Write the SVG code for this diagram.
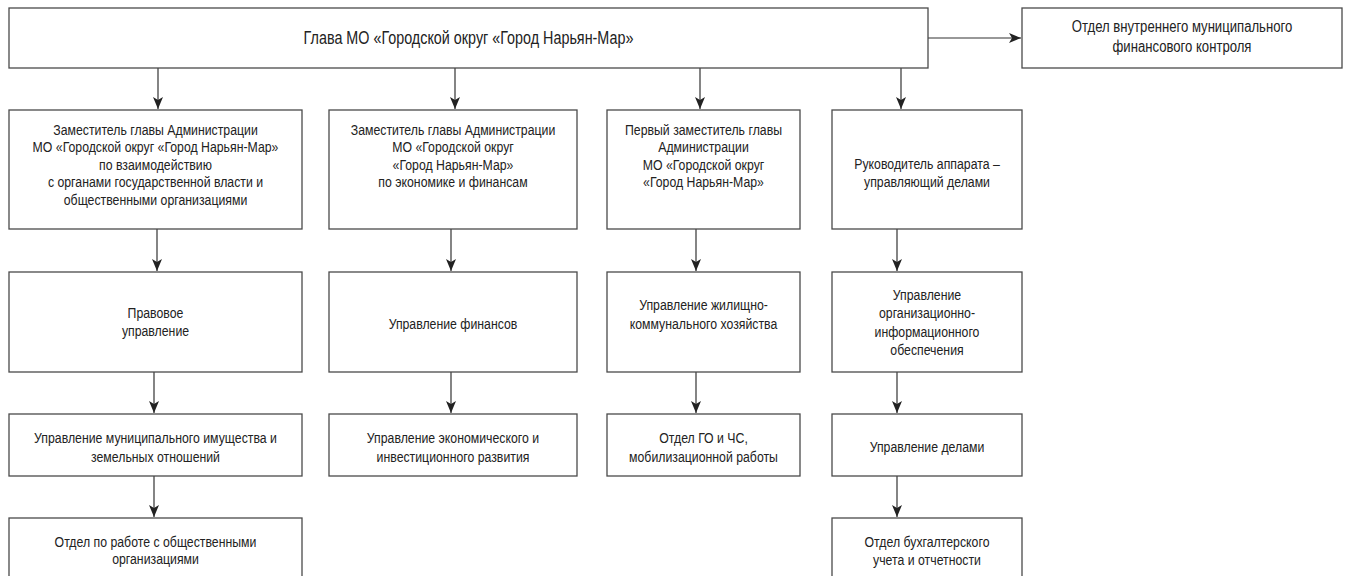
<svg xmlns="http://www.w3.org/2000/svg" width="1351" height="576" viewBox="0 0 1351 576">
<defs>
<style>
.box{fill:#fff;stroke:#4a4a4a;stroke-width:1.3}
.t{font-family:"Liberation Sans",Arial,sans-serif;font-size:15px;fill:#222;text-anchor:middle}
.tt{font-size:17.5px}
.tr{font-size:16px}
.c{stroke:#333;stroke-width:1.2;fill:none;marker-end:url(#ah)}
</style>
<marker id="ah" viewBox="0 0 12 10" refX="12" refY="5" markerWidth="12" markerHeight="10" markerUnits="userSpaceOnUse" orient="auto">
<path d="M0,0 L12,5 L0,10 L3,5 Z" fill="#222"/>
</marker>
</defs>
<rect width="1351" height="576" fill="#fff"/>

<g id="connectors">
<path class="c" d="M158,68 V109"/>
<path class="c" d="M455,68 V109"/>
<path class="c" d="M700,68 V109"/>
<path class="c" d="M901,68 V109"/>
<path class="c" d="M928,38 H1021"/>
<path class="c" d="M157,229 V271"/>
<path class="c" d="M451,229 V271"/>
<path class="c" d="M696,229 V271"/>
<path class="c" d="M897,229 V271"/>
<path class="c" d="M154,372 V413"/>
<path class="c" d="M451,372 V413"/>
<path class="c" d="M696,372 V413"/>
<path class="c" d="M897,372 V413"/>
<path class="c" d="M154,476 V517"/>
<path class="c" d="M897,476 V517"/>
</g>

<g id="head">
<rect class="box" x="9" y="8" width="919" height="60"/>
<text class="t tt" x="0" y="44.5" transform="matrix(0.82 0 0 1 468.5 0)">Глава МО «Городской округ «Город Нарьян-Мар»</text>
</g>
<g id="audit">
<rect class="box" x="1022" y="8" width="320" height="60"/>
<text class="t tr" x="0" y="32" transform="matrix(0.82 0 0 1 1182 0)">Отдел внутреннего муниципального</text>
<text class="t tr" x="0" y="52" transform="matrix(0.82 0 0 1 1182 0)">финансового контроля</text>
</g>

<g id="dep1">
<rect class="box" x="9" y="110" width="293" height="119"/>
<text class="t" x="0" y="135" transform="matrix(0.82 0 0 1 155.5 0)">Заместитель главы Администрации</text>
<text class="t" x="0" y="152.5" transform="matrix(0.82 0 0 1 155.5 0)">МО «Городской округ «Город Нарьян-Мар»</text>
<text class="t" x="0" y="170" transform="matrix(0.82 0 0 1 155.5 0)">по взаимодействию</text>
<text class="t" x="0" y="187.5" transform="matrix(0.82 0 0 1 155.5 0)">с органами государственной власти и</text>
<text class="t" x="0" y="205" transform="matrix(0.82 0 0 1 155.5 0)">общественными организациями</text>
</g>
<g id="dep2">
<rect class="box" x="329" y="110" width="248" height="119"/>
<text class="t" x="0" y="135" transform="matrix(0.82 0 0 1 453 0)">Заместитель главы Администрации</text>
<text class="t" x="0" y="152.5" transform="matrix(0.82 0 0 1 453 0)">МО «Городской округ</text>
<text class="t" x="0" y="170" transform="matrix(0.82 0 0 1 453 0)">«Город Нарьян-Мар»</text>
<text class="t" x="0" y="187.5" transform="matrix(0.82 0 0 1 453 0)">по экономике и финансам</text>
</g>
<g id="dep3">
<rect class="box" x="607" y="110" width="193" height="119"/>
<text class="t" x="0" y="135" transform="matrix(0.82 0 0 1 703.5 0)">Первый заместитель главы</text>
<text class="t" x="0" y="152.5" transform="matrix(0.82 0 0 1 703.5 0)">Администрации</text>
<text class="t" x="0" y="170" transform="matrix(0.82 0 0 1 703.5 0)">МО «Городской округ</text>
<text class="t" x="0" y="187.5" transform="matrix(0.82 0 0 1 703.5 0)">«Город Нарьян-Мар»</text>
</g>
<g id="dep4">
<rect class="box" x="832" y="110" width="190" height="119"/>
<text class="t" x="0" y="169.5" transform="matrix(0.82 0 0 1 927 0)">Руководитель аппарата –</text>
<text class="t" x="0" y="187.5" transform="matrix(0.82 0 0 1 927 0)">управляющий делами</text>
</g>

<g id="legal">
<rect class="box" x="9" y="272" width="293" height="100"/>
<text class="t" x="0" y="318.5" transform="matrix(0.82 0 0 1 155.5 0)">Правовое</text>
<text class="t" x="0" y="336" transform="matrix(0.82 0 0 1 155.5 0)">управление</text>
</g>
<g id="finance">
<rect class="box" x="329" y="272" width="248" height="100"/>
<text class="t" x="0" y="329" transform="matrix(0.82 0 0 1 453 0)">Управление финансов</text>
</g>
<g id="housing">
<rect class="box" x="607" y="272" width="193" height="100"/>
<text class="t" x="0" y="310.5" transform="matrix(0.82 0 0 1 703.5 0)">Управление жилищно-</text>
<text class="t" x="0" y="329" transform="matrix(0.82 0 0 1 703.5 0)">коммунального хозяйства</text>
</g>
<g id="orginfo">
<rect class="box" x="832" y="272" width="190" height="100"/>
<text class="t" x="0" y="300" transform="matrix(0.82 0 0 1 927 0)">Управление</text>
<text class="t" x="0" y="318.5" transform="matrix(0.82 0 0 1 927 0)">организационно-</text>
<text class="t" x="0" y="337" transform="matrix(0.82 0 0 1 927 0)">информационного</text>
<text class="t" x="0" y="355.5" transform="matrix(0.82 0 0 1 927 0)">обеспечения</text>
</g>

<g id="property">
<rect class="box" x="9" y="414" width="293" height="62"/>
<text class="t" x="0" y="443" transform="matrix(0.82 0 0 1 155.5 0)">Управление муниципального имущества и</text>
<text class="t" x="0" y="462" transform="matrix(0.82 0 0 1 155.5 0)">земельных отношений</text>
</g>
<g id="economy">
<rect class="box" x="329" y="414" width="248" height="62"/>
<text class="t" x="0" y="443" transform="matrix(0.82 0 0 1 453 0)">Управление экономического и</text>
<text class="t" x="0" y="462" transform="matrix(0.82 0 0 1 453 0)">инвестиционного развития</text>
</g>
<g id="civil">
<rect class="box" x="607" y="414" width="193" height="62"/>
<text class="t" x="0" y="443" transform="matrix(0.82 0 0 1 703.5 0)">Отдел ГО и ЧС,</text>
<text class="t" x="0" y="462" transform="matrix(0.82 0 0 1 703.5 0)">мобилизационной работы</text>
</g>
<g id="affairs">
<rect class="box" x="832" y="414" width="190" height="62"/>
<text class="t" x="0" y="452" transform="matrix(0.82 0 0 1 927 0)">Управление делами</text>
</g>

<g id="public">
<rect class="box" x="9" y="518" width="293" height="62"/>
<text class="t" x="0" y="547" transform="matrix(0.82 0 0 1 155.5 0)">Отдел по работе с общественными</text>
<text class="t" x="0" y="564.5" transform="matrix(0.82 0 0 1 155.5 0)">организациями</text>
</g>
<g id="account">
<rect class="box" x="832" y="518" width="190" height="62"/>
<text class="t" x="0" y="547" transform="matrix(0.82 0 0 1 927 0)">Отдел бухгалтерского</text>
<text class="t" x="0" y="565" transform="matrix(0.82 0 0 1 927 0)">учета и отчетности</text>
</g>
</svg>
